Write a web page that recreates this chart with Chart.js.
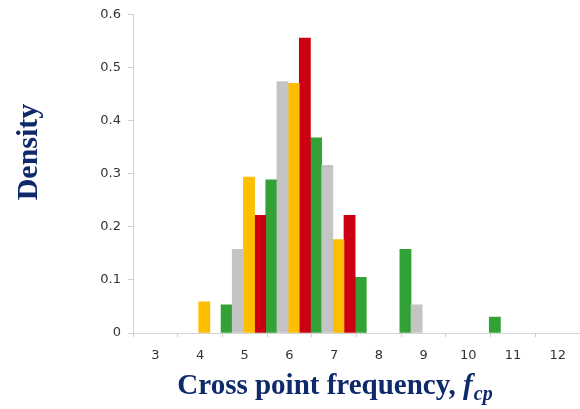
<!DOCTYPE html>
<html>
<head>
<meta charset="utf-8">
<script src="https://cdn.jsdelivr.net/npm/chart.js@4/dist/chart.umd.min.js"></script>
<style>
  html, body { margin: 0; padding: 0; background: #ffffff; }
  #wrap { width: 580px; height: 409px; position: relative; }
</style>
</head>
<body>
<div id="wrap"><canvas id="c" width="580" height="409"></canvas></div>
<script>
// Cross point frequency bins (x tick labels)
const bins = [3, 4, 5, 6, 7, 8, 9, 10, 11, 12];

// Density per bin for each group
const grayVals   = [0, 0,     0.158, 0.474, 0.316, 0,     0.053, 0,    0, 0];
const orangeVals = [0, 0.059, 0.294, 0.471, 0.176, 0,     0,     0,    0, 0];
const redVals    = [0, 0,     0.222, 0.556, 0.222, 0,     0,     0,    0, 0];
const greenVals  = [0, 0.053, 0.289, 0.368, 0.105, 0.158, 0,     0.03, 0, 0];

// Y axis ticks
const yTicks = [0, 0.1, 0.2, 0.3, 0.4, 0.5, 0.6];

const xTitle = 'Cross point frequency, ';
const xTitleVar = 'f';
const xTitleSub = 'cp';
const yTitle = 'Density';

const titleColor = '#0f2a6b';
const groupShift = 0.22; // bar groups sit slightly right of bin centres

// empty bins get no bar at all (null instead of a zero-height sliver)
function series(vals) {
  return vals.map((v, i) => ({ x: bins[i], y: v === 0 ? null : v }));
}

function mkDataset(label, vals, color) {
  return {
    label: label,
    data: series(vals),
    backgroundColor: color,
    borderWidth: 0,
    xAxisID: 'xv',
    yAxisID: 'y',
    categoryPercentage: 1.0,
    barPercentage: 1.0
  };
}

const titlesPlugin = {
  id: 'axisTitles',
  afterDraw(chart) {
    const ctx = chart.ctx;
    ctx.save();
    ctx.fillStyle = titleColor;

    // y title, rotated
    ctx.font = 'bold 30px "Liberation Serif", "Times New Roman", serif';
    ctx.textAlign = 'center';
    ctx.textBaseline = 'middle';
    ctx.translate(29, 152);
    ctx.rotate(-Math.PI / 2);
    ctx.fillText(yTitle, 0, 0);
    ctx.setTransform(1, 0, 0, 1, 0, 0);

    // x title with italic symbol and subscript
    const mainFont = 'bold 29px "Liberation Serif", "Times New Roman", serif';
    const varFont = 'italic bold 29px "Liberation Serif", "Times New Roman", serif';
    const subFont = 'italic bold 20px "Liberation Serif", "Times New Roman", serif';
    ctx.textBaseline = 'alphabetic';
    ctx.textAlign = 'left';
    ctx.font = mainFont;
    const w1 = ctx.measureText(xTitle).width;
    ctx.font = varFont;
    const w2 = ctx.measureText(xTitleVar).width;
    ctx.font = subFont;
    const w3 = ctx.measureText(xTitleSub).width;
    const total = w1 + w2 + w3 + 1;
    const cx = 335;
    let x = cx - total / 2;
    const baseY = 394;
    ctx.font = mainFont;
    ctx.fillText(xTitle, x, baseY);
    x += w1;
    ctx.font = varFont;
    ctx.fillText(xTitleVar, x, baseY);
    x += w2 + 1;
    ctx.font = subFont;
    ctx.fillText(xTitleSub, x, baseY + 6);
    ctx.restore();
  }
};

new Chart(document.getElementById('c'), {
  type: 'bar',
  data: {
    datasets: [
      mkDataset('A', grayVals,   '#c4c4c4'),
      mkDataset('B', orangeVals, '#fdbd00'),
      mkDataset('C', redVals,    '#cc0012'),
      mkDataset('D', greenVals,  '#32a236')
    ]
  },
  options: {
    responsive: false,
    animation: false,
    devicePixelRatio: 1,
    layout: { padding: { top: 13, right: 0, left: 0, bottom: 0 } },
    plugins: {
      legend: { display: false },
      tooltip: { enabled: false },
      title: { display: false }
    },
    scales: {
      x: {
        type: 'category',
        labels: bins.map(String),
        position: 'bottom',
        offset: true,
        grid: {
          offset: true,
          drawOnChartArea: false,
          drawTicks: true,
          tickLength: 4,
          color: '#cfcfcf'
        },
        border: { display: true, color: '#d4d4d4', width: 1 },
        ticks: {
          color: '#333333',
          font: { family: '"DejaVu Sans", sans-serif', size: 13 },
          padding: 11,
          maxRotation: 0,
          autoSkip: false
        },
        afterFit(scale) { scale.height = 76; }
      },
      xv: {
        type: 'linear',
        display: false,
        offset: false,
        min: bins[0] - 0.5 - groupShift,
        max: bins[bins.length - 1] + 0.5 - groupShift,
        grid: { display: false }
      },
      y: {
        type: 'linear',
        min: yTicks[0],
        max: yTicks[yTicks.length - 1],
        afterBuildTicks(scale) {
          scale.ticks = yTicks.map(v => ({ value: v }));
        },
        grid: {
          drawOnChartArea: false,
          drawTicks: true,
          tickLength: 5,
          color: '#cfcfcf'
        },
        border: { display: true, color: '#d4d4d4', width: 1 },
        ticks: {
          color: '#333333',
          font: { family: '"DejaVu Sans", sans-serif', size: 13 },
          padding: 7,
          callback: (v) => (v === 0 ? '0' : Number(v).toFixed(1))
        },
        afterFit(scale) { scale.width = 133; }
      }
    }
  },
  plugins: [titlesPlugin]
});
</script>
</body>
</html>
